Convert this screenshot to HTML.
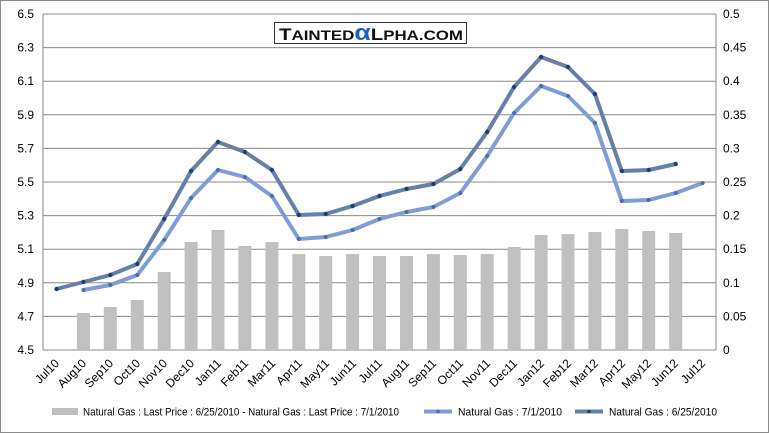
<!DOCTYPE html>
<html><head><style>body{margin:0;background:#fff}svg{display:block;font-family:"Liberation Sans",sans-serif}</style></head><body>
<svg width="769" height="433" xmlns="http://www.w3.org/2000/svg">
<rect x="0.5" y="0.5" width="768" height="432" fill="#fff" stroke="#8c8c8c"/>
<g stroke="#8a8a8a" stroke-width="1">
<line x1="43" y1="14" x2="716" y2="14"/><line x1="43" y1="47.6" x2="716" y2="47.6"/><line x1="43" y1="81.2" x2="716" y2="81.2"/><line x1="43" y1="114.8" x2="716" y2="114.8"/><line x1="43" y1="148.4" x2="716" y2="148.4"/><line x1="43" y1="182" x2="716" y2="182"/><line x1="43" y1="215.6" x2="716" y2="215.6"/><line x1="43" y1="249.2" x2="716" y2="249.2"/><line x1="43" y1="282.8" x2="716" y2="282.8"/><line x1="43" y1="316.4" x2="716" y2="316.4"/><line x1="43" y1="350" x2="716" y2="350"/>
<line x1="43" y1="14" x2="43" y2="350"/><line x1="716" y1="14" x2="716" y2="350"/>
</g>
<g fill="#c0c0c0">
<rect x="76.9" y="313" width="13" height="37"/><rect x="103.8" y="307" width="13" height="43"/><rect x="130.8" y="300" width="13" height="50"/><rect x="157.7" y="272" width="13" height="78"/><rect x="184.6" y="242" width="13" height="108"/><rect x="211.5" y="230" width="13" height="120"/><rect x="238.4" y="246" width="13" height="104"/><rect x="265.4" y="242" width="13" height="108"/><rect x="292.3" y="254" width="13" height="96"/><rect x="319.2" y="256" width="13" height="94"/><rect x="346.1" y="254" width="13" height="96"/><rect x="373" y="256" width="13" height="94"/><rect x="400" y="256" width="13" height="94"/><rect x="426.9" y="254" width="13" height="96"/><rect x="453.8" y="255" width="13" height="95"/><rect x="480.7" y="254" width="13" height="96"/><rect x="507.6" y="247" width="13" height="103"/><rect x="534.6" y="235" width="13" height="115"/><rect x="561.5" y="234" width="13" height="116"/><rect x="588.4" y="232" width="13" height="118"/><rect x="615.3" y="229" width="13" height="121"/><rect x="642.2" y="231" width="13" height="119"/><rect x="669.2" y="233" width="13" height="117"/>
</g>
<polyline fill="none" stroke="#7f9fd4" stroke-width="4" stroke-linejoin="round" points="83.4,290 110.3,285 137.3,275 164.2,240 191.1,198 218,170 244.9,177 271.9,196 298.8,239 325.7,237 352.6,230 379.5,219 406.5,212 433.4,207 460.3,193 487.2,156 514.1,113 541.1,86 568,96 594.9,123 621.8,201 648.7,200 675.7,193 702.6,183"/>
<g fill="#4a6fa8"><circle cx="83.4" cy="290" r="2"/><circle cx="110.3" cy="285" r="2"/><circle cx="137.3" cy="275" r="2"/><circle cx="164.2" cy="240" r="2"/><circle cx="191.1" cy="198" r="2"/><circle cx="218" cy="170" r="2"/><circle cx="244.9" cy="177" r="2"/><circle cx="271.9" cy="196" r="2"/><circle cx="298.8" cy="239" r="2"/><circle cx="325.7" cy="237" r="2"/><circle cx="352.6" cy="230" r="2"/><circle cx="379.5" cy="219" r="2"/><circle cx="406.5" cy="212" r="2"/><circle cx="433.4" cy="207" r="2"/><circle cx="460.3" cy="193" r="2"/><circle cx="487.2" cy="156" r="2"/><circle cx="514.1" cy="113" r="2"/><circle cx="541.1" cy="86" r="2"/><circle cx="568" cy="96" r="2"/><circle cx="594.9" cy="123" r="2"/><circle cx="621.8" cy="201" r="2"/><circle cx="648.7" cy="200" r="2"/><circle cx="675.7" cy="193" r="2"/><circle cx="702.6" cy="183" r="2"/></g>
<polyline fill="none" stroke="#6680a8" stroke-width="4" stroke-linejoin="round" points="56.5,289 83.4,282 110.3,275 137.3,264 164.2,219 191.1,171 218,142 244.9,152 271.9,170 298.8,215 325.7,214 352.6,206 379.5,196 406.5,189 433.4,184 460.3,169 487.2,132 514.1,87 541.1,57 568,67 594.9,94 621.8,171 648.7,170 675.7,164"/>
<g fill="#1f3f74"><circle cx="56.5" cy="289" r="2.2"/><circle cx="83.4" cy="282" r="2.2"/><circle cx="110.3" cy="275" r="2.2"/><circle cx="137.3" cy="264" r="2.2"/><circle cx="164.2" cy="219" r="2.2"/><circle cx="191.1" cy="171" r="2.2"/><circle cx="218" cy="142" r="2.2"/><circle cx="244.9" cy="152" r="2.2"/><circle cx="271.9" cy="170" r="2.2"/><circle cx="298.8" cy="215" r="2.2"/><circle cx="325.7" cy="214" r="2.2"/><circle cx="352.6" cy="206" r="2.2"/><circle cx="379.5" cy="196" r="2.2"/><circle cx="406.5" cy="189" r="2.2"/><circle cx="433.4" cy="184" r="2.2"/><circle cx="460.3" cy="169" r="2.2"/><circle cx="487.2" cy="132" r="2.2"/><circle cx="514.1" cy="87" r="2.2"/><circle cx="541.1" cy="57" r="2.2"/><circle cx="568" cy="67" r="2.2"/><circle cx="594.9" cy="94" r="2.2"/><circle cx="621.8" cy="171" r="2.2"/><circle cx="648.7" cy="170" r="2.2"/><circle cx="675.7" cy="164" r="2.2"/></g>
<g font-size="12" fill="#000" text-anchor="end">
<text x="34" y="18">6.5</text><text x="34" y="51.6">6.3</text><text x="34" y="85.2">6.1</text><text x="34" y="118.8">5.9</text><text x="34" y="152.4">5.7</text><text x="34" y="186">5.5</text><text x="34" y="219.6">5.3</text><text x="34" y="253.2">5.1</text><text x="34" y="286.8">4.9</text><text x="34" y="320.4">4.7</text><text x="34" y="354">4.5</text>
</g>
<g font-size="12" fill="#000">
<text x="723" y="18">0.5</text><text x="723" y="51.6">0.45</text><text x="723" y="85.2">0.4</text><text x="723" y="118.8">0.35</text><text x="723" y="152.4">0.3</text><text x="723" y="186">0.25</text><text x="723" y="219.6">0.2</text><text x="723" y="253.2">0.15</text><text x="723" y="286.8">0.1</text><text x="723" y="320.4">0.05</text><text x="723" y="354">0</text>
</g>
<g font-size="12" fill="#000" text-anchor="end">
<text transform="translate(60,364) rotate(-45)">Jul10</text><text transform="translate(87,364) rotate(-45)">Aug10</text><text transform="translate(114,364) rotate(-45)">Sep10</text><text transform="translate(141,364) rotate(-45)">Oct10</text><text transform="translate(168,364) rotate(-45)">Nov10</text><text transform="translate(195,364) rotate(-45)">Dec10</text><text transform="translate(222,364) rotate(-45)">Jan11</text><text transform="translate(249,364) rotate(-45)">Feb11</text><text transform="translate(276,364) rotate(-45)">Mar11</text><text transform="translate(303,364) rotate(-45)">Apr11</text><text transform="translate(330,364) rotate(-45)">May11</text><text transform="translate(357,364) rotate(-45)">Jun11</text><text transform="translate(383,364) rotate(-45)">Jul11</text><text transform="translate(410,364) rotate(-45)">Aug11</text><text transform="translate(437,364) rotate(-45)">Sep11</text><text transform="translate(464,364) rotate(-45)">Oct11</text><text transform="translate(491,364) rotate(-45)">Nov11</text><text transform="translate(518,364) rotate(-45)">Dec11</text><text transform="translate(545,364) rotate(-45)">Jan12</text><text transform="translate(572,364) rotate(-45)">Feb12</text><text transform="translate(599,364) rotate(-45)">Mar12</text><text transform="translate(626,364) rotate(-45)">Apr12</text><text transform="translate(652,364) rotate(-45)">May12</text><text transform="translate(679,364) rotate(-45)">Jun12</text><text transform="translate(706,364) rotate(-45)">Jul12</text>
</g>
<rect x="274.5" y="22.5" width="192" height="21" fill="#fff" stroke="#333"/>
<text x="279" y="40" font-size="17" font-weight="bold" fill="#111" textLength="184" lengthAdjust="spacingAndGlyphs">T<tspan font-size="14">AINTED</tspan><tspan fill="#1f5fc0" font-size="22">α</tspan>L<tspan font-size="14">PHA.COM</tspan></text>
<rect x="52" y="408" width="26" height="7" fill="#c0c0c0"/>
<line x1="424" y1="411.5" x2="452" y2="411.5" stroke="#7f9fd4" stroke-width="4"/><circle cx="438" cy="411.5" r="1.8" fill="#4a6fa8"/>
<line x1="575" y1="411.5" x2="603" y2="411.5" stroke="#6680a8" stroke-width="4"/><circle cx="589" cy="411.5" r="1.8" fill="#1f3f74"/>
<g font-size="11" fill="#000">
<text x="83" y="415.5" textLength="316" lengthAdjust="spacingAndGlyphs">Natural Gas : Last Price : 6/25/2010 - Natural Gas : Last Price : 7/1/2010</text>
<text x="458" y="415.5" textLength="104" lengthAdjust="spacingAndGlyphs">Natural Gas : 7/1/2010</text>
<text x="609" y="415.5" textLength="108" lengthAdjust="spacingAndGlyphs">Natural Gas : 6/25/2010</text>
</g>
</svg>
</body></html>
